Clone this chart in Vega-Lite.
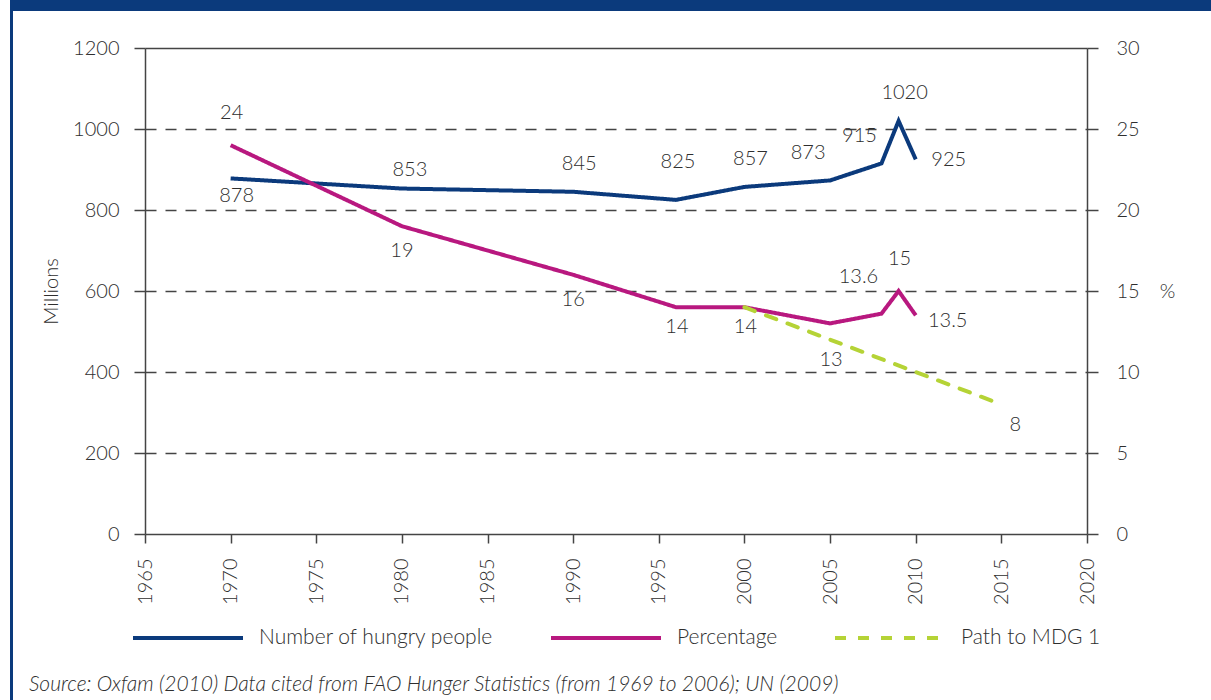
{
  "$schema": "https://vega.github.io/schema/vega-lite/v6.json",
  "padding": {"left": 8, "top": 0, "right": 0, "bottom": 0},
  "background": "white",
  "bounds": "flush",
  "spacing": 0,
  "config": {
    "font": "Lato",
    "view": {"stroke": null},
    "axis": {
      "labelFont": "Lato",
      "labelFontSize": 20,
      "labelFontWeight": 300,
      "labelColor": "#2e2e2e",
      "titleFont": "Lato",
      "titleFontWeight": 300,
      "titleColor": "#2e2e2e",
      "tickColor": "#444444",
      "domainColor": "#444444",
      "tickWidth": 1.5,
      "domainWidth": 1.5
    },
    "legend": {
      "orient": "none",
      "legendX": 121,
      "legendY": 581,
      "direction": "horizontal",
      "padding": 0,
      "symbolType": "stroke",
      "symbolSize": 12100,
      "symbolStrokeWidth": 4,
      "labelFont": "Lato",
      "labelFontWeight": 300,
      "labelFontSize": 21,
      "labelColor": "#2e2e2e",
      "labelOffset": 14,
      "columnPadding": 49,
      "labelLimit": 400
    }
  },
  "datasets": {
    "hungry": [
      {"series": "Number of hungry people", "year": 1970, "millions": 878, "label": "878"},
      {"series": "Number of hungry people", "year": 1980, "millions": 853, "label": "853"},
      {"series": "Number of hungry people", "year": 1990, "millions": 845, "label": "845"},
      {"series": "Number of hungry people", "year": 1996, "millions": 825, "label": "825"},
      {"series": "Number of hungry people", "year": 2000, "millions": 857, "label": "857"},
      {"series": "Number of hungry people", "year": 2005, "millions": 873, "label": "873"},
      {"series": "Number of hungry people", "year": 2008, "millions": 915, "label": "915"},
      {"series": "Number of hungry people", "year": 2009, "millions": 1020, "label": "1020"},
      {"series": "Number of hungry people", "year": 2010, "millions": 925, "label": "925"}
    ],
    "pct": [
      {"series": "Percentage", "year": 1970, "percent": 24, "label": "24"},
      {"series": "Percentage", "year": 1980, "percent": 19, "label": "19"},
      {"series": "Percentage", "year": 1990, "percent": 16, "label": "16"},
      {"series": "Percentage", "year": 1996, "percent": 14, "label": "14"},
      {"series": "Percentage", "year": 2000, "percent": 14, "label": "14"},
      {"series": "Percentage", "year": 2005, "percent": 13, "label": "13"},
      {"series": "Percentage", "year": 2008, "percent": 13.6, "label": "13.6"},
      {"series": "Percentage", "year": 2009, "percent": 15, "label": "15"},
      {"series": "Percentage", "year": 2010, "percent": 13.5, "label": "13.5"},
      {"series": "Path to MDG 1", "year": 2000, "percent": 14, "label": ""},
      {"series": "Path to MDG 1", "year": 2005, "percent": 12, "label": "13"},
      {"series": "Path to MDG 1", "year": 2015, "percent": 8, "label": "8"}
    ],
    "frame": [{"part": "frame"}]
  },
  "hconcat": [
    {
      "data": {"name": "frame"},
      "mark": {"type": "point", "opacity": 0},
      "width": 3,
      "height": 700,
      "view": {"fill": "#0b3a7c", "stroke": null}
    },
    {
      "bounds": "flush",
      "spacing": 37,
      "vconcat": [
        {
          "data": {"name": "frame"},
          "mark": {"type": "point", "opacity": 0},
          "width": 1200,
          "height": 11,
          "view": {"fill": "#0b3a7c", "stroke": null}
        },
        {
          "bounds": "flush",
          "spacing": 131,
          "hconcat": [
            {
              "data": {"name": "frame"},
              "mark": {"type": "point", "opacity": 0},
              "width": 1,
              "height": 1
            },
            {
              "width": 942,
              "height": 486,
              "title": {
                "text": "Source: Oxfam (2010) Data cited from FAO Hunger Statistics (from 1969 to 2006); UN (2009)",
                "orient": "bottom",
                "anchor": "start",
                "frame": "group",
                "dx": -116,
                "offset": 70,
                "font": "Lato",
                "fontSize": 21,
                "fontStyle": "italic",
                "fontWeight": 300,
                "color": "#2e2e2e"
              },
              "encoding": {
                "x": {
                  "field": "year",
                  "type": "quantitative",
                  "scale": {"domain": [1965, 2020], "nice": false, "zero": false},
                  "axis": {
                    "values": [1965, 1970, 1975, 1980, 1985, 1990, 1995, 2000, 2005, 2010, 2015, 2020],
                    "format": "d",
                    "labelAngle": -90,
                    "labelAlign": "right",
                    "labelBaseline": "middle",
                    "labelPadding": 15,
                    "tickSize": 9,
                    "grid": false,
                    "title": null,
                    "domain": false
                  }
                }
              },
              "layer": [
                {
                  "data": {"name": "hungry"},
                  "encoding": {
                    "y": {
                      "field": "millions",
                      "type": "quantitative",
                      "scale": {"domain": [0, 1200], "nice": false},
                      "axis": {
                        "values": [0, 200, 400, 600, 800, 1000, 1200],
                        "format": "d",
                        "grid": true,
                        "gridColor": "#444444",
                        "gridWidth": 1.3,
                        "gridDash": {"condition": {"test": "datum.value === 0 || datum.value === 1200", "value": []}, "value": [11, 9]},
                        "tickSize": 11,
                        "labelPadding": 15,
                        "title": "Millions",
                        "titleFontSize": 20,
                        "titlePadding": 11
                      }
                    }
                  },
                  "layer": [
                    {
                      "mark": {"type": "line", "strokeWidth": 4},
                      "encoding": {
                        "color": {
                          "field": "series",
                          "type": "nominal",
                          "title": null,
                          "scale": {"domain": ["Number of hungry people", "Percentage", "Path to MDG 1"], "range": ["#0b3a7c", "#b8187f", "#b5d336"]}
                        },
                        "strokeDash": {
                          "field": "series",
                          "type": "nominal",
                          "title": null,
                          "scale": {"domain": ["Number of hungry people", "Percentage", "Path to MDG 1"], "range": [[1, 0], [1, 0], [11, 12]]}
                        }
                      }
                    },
                    {
                      "transform": [{"filter": "datum.year === 1970"}],
                      "mark": {"type": "text", "fontSize": 20, "fontWeight": 300, "color": "#2e2e2e", "dx": 6, "dy": 18},
                      "encoding": {"text": {"field": "label"}}
                    },
                    {
                      "transform": [{"filter": "datum.year === 1980"}],
                      "mark": {"type": "text", "fontSize": 20, "fontWeight": 300, "color": "#2e2e2e", "dx": 8, "dy": -19},
                      "encoding": {"text": {"field": "label"}}
                    },
                    {
                      "transform": [{"filter": "datum.year === 1990 || datum.year === 2000 || datum.year === 2009"}],
                      "mark": {"type": "text", "fontSize": 20, "fontWeight": 300, "color": "#2e2e2e", "dx": 6, "dy": -28},
                      "encoding": {"text": {"field": "label"}}
                    },
                    {
                      "transform": [{"filter": "datum.year === 1996"}],
                      "mark": {"type": "text", "fontSize": 20, "fontWeight": 300, "color": "#2e2e2e", "dx": 2, "dy": -38},
                      "encoding": {"text": {"field": "label"}}
                    },
                    {
                      "transform": [{"filter": "datum.year === 2005 || datum.year === 2008"}],
                      "mark": {"type": "text", "fontSize": 20, "fontWeight": 300, "color": "#2e2e2e", "dx": -22, "dy": -27},
                      "encoding": {"text": {"field": "label"}}
                    },
                    {
                      "transform": [{"filter": "datum.year === 2010"}],
                      "mark": {"type": "text", "fontSize": 20, "fontWeight": 300, "color": "#2e2e2e", "dx": 33, "dy": 1},
                      "encoding": {"text": {"field": "label"}}
                    }
                  ]
                },
                {
                  "data": {"name": "pct"},
                  "encoding": {
                    "y": {
                      "field": "percent",
                      "type": "quantitative",
                      "scale": {"domain": [0, 30], "nice": false},
                      "axis": {
                        "orient": "right",
                        "values": [0, 5, 10, 15, 20, 25, 30],
                        "grid": false,
                        "tickSize": 11,
                        "labelPadding": 18,
                        "title": "%",
                        "titleAngle": 0,
                        "titleFontSize": 20,
                        "titleX": 80,
                        "titleY": 243,
                        "titleAlign": "center",
                        "titleBaseline": "middle"
                      }
                    }
                  },
                  "layer": [
                    {
                      "transform": [{"filter": "datum.series === 'Percentage'"}],
                      "mark": {"type": "line", "strokeWidth": 4},
                      "encoding": {
                        "color": {"field": "series", "type": "nominal", "title": null},
                        "strokeDash": {"field": "series", "type": "nominal", "title": null}
                      }
                    },
                    {
                      "transform": [{"filter": "datum.series === 'Path to MDG 1'"}],
                      "mark": {"type": "line", "strokeWidth": 4, "strokeCap": "round"},
                      "encoding": {
                        "color": {"field": "series", "type": "nominal", "title": null},
                        "strokeDash": {"field": "series", "type": "nominal", "title": null}
                      }
                    },
                    {
                      "transform": [{"filter": "datum.series === 'Percentage' && (datum.year === 1970 || datum.year === 2009)"}],
                      "mark": {"type": "text", "fontSize": 20, "fontWeight": 300, "color": "#2e2e2e", "dx": 1, "dy": -32},
                      "encoding": {"text": {"field": "label"}}
                    },
                    {
                      "transform": [{"filter": "datum.series === 'Percentage' && (datum.year === 1980 || datum.year === 1990)"}],
                      "mark": {"type": "text", "fontSize": 20, "fontWeight": 300, "color": "#2e2e2e", "dx": 0, "dy": 25},
                      "encoding": {"text": {"field": "label"}}
                    },
                    {
                      "transform": [{"filter": "(datum.series === 'Percentage' && (datum.year === 1996 || datum.year === 2000)) || (datum.series === 'Path to MDG 1' && datum.year === 2005)"}],
                      "mark": {"type": "text", "fontSize": 20, "fontWeight": 300, "color": "#2e2e2e", "dx": 1, "dy": 20},
                      "encoding": {"text": {"field": "label"}}
                    },
                    {
                      "transform": [{"filter": "datum.series === 'Percentage' && datum.year === 2008"}],
                      "mark": {"type": "text", "fontSize": 20, "fontWeight": 300, "color": "#2e2e2e", "dx": -23, "dy": -37},
                      "encoding": {"text": {"field": "label"}}
                    },
                    {
                      "transform": [{"filter": "datum.series === 'Percentage' && datum.year === 2010"}],
                      "mark": {"type": "text", "fontSize": 20, "fontWeight": 300, "color": "#2e2e2e", "dx": 32, "dy": 6},
                      "encoding": {"text": {"field": "label"}}
                    },
                    {
                      "transform": [{"filter": "datum.series === 'Path to MDG 1' && datum.year === 2015"}],
                      "mark": {"type": "text", "fontSize": 20, "fontWeight": 300, "color": "#2e2e2e", "dx": 14, "dy": 21},
                      "encoding": {"text": {"field": "label"}}
                    }
                  ]
                }
              ],
              "resolve": {"scale": {"y": "independent"}}
            }
          ]
        }
      ]
    }
  ]
}
